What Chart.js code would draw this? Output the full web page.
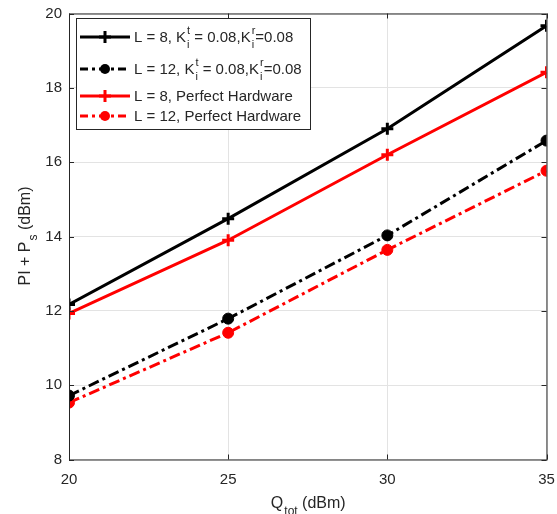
<!DOCTYPE html>
<html>
<head>
<meta charset="utf-8">
<script src="https://cdn.jsdelivr.net/npm/chart.js@4"></script>
<style>
  html, body { margin: 0; padding: 0; background: #fff; }
  #wrap { width: 557px; height: 514px; position: relative; }
</style>
</head>
<body>
<div id="wrap"><canvas id="chart" width="557" height="514"></canvas></div>
<script>
// data
const xValues = [20, 25, 30, 35];
const l8Impaired = [12.17, 14.48, 16.9, 19.67];
const l12Impaired = [9.72, 11.79, 14.03, 16.58];
const l8Perfect = [11.93, 13.9, 16.2, 18.42];
const l12Perfect = [9.53, 11.41, 13.64, 15.77];
const yTicks = [8, 10, 12, 14, 16, 18, 20];

const FONT = '"Liberation Sans", Arial, Helvetica, sans-serif';
const AXIS_COLOR = '#262626';
const DASH_DOT = [11, 4, 3, 4];

function pts(ys) {
    return xValues.map((x, i) => ({ x: x, y: ys[i] }));
}

// text with sub/superscripts: parts = [text, sup, sub]
function richWidth(ctx, parts, size) {
    let w = 0;
    parts.forEach(p => {
        ctx.font = size + 'px ' + FONT;
        w += ctx.measureText(p[0]).width;
        ctx.font = Math.round(size * 0.75) + 'px ' + FONT;
        w += Math.max(p[1] ? ctx.measureText(p[1]).width : 0, p[2] ? ctx.measureText(p[2]).width : 0);
    });
    return w;
}

function drawRich(ctx, x, y, parts, size) {
    ctx.textBaseline = 'middle';
    ctx.textAlign = 'left';
    parts.forEach(p => {
        ctx.font = size + 'px ' + FONT;
        ctx.fillText(p[0], x, y);
        x += ctx.measureText(p[0]).width;
        const small = Math.round(size * 0.75);
        ctx.font = small + 'px ' + FONT;
        let adv = 0;
        if (p[1]) {
            ctx.fillText(p[1], x + 1, y - size * 0.45);
            adv = Math.max(adv, ctx.measureText(p[1]).width + 1);
        }
        if (p[2]) {
            ctx.fillText(p[2], x + 1, y + size * 0.48);
            adv = Math.max(adv, ctx.measureText(p[2]).width + 1);
        }
        x += adv;
    });
}

const legendItems = [
    { color: '#000', dash: [], marker: 'plus', y: 37,
      parts: [['L = 8, K', 't', 'i'], [' = 0.08,K', 'r', 'i'], ['=0.08', '', '']] },
    { color: '#000', dash: [8, 4, 3, 4], marker: 'circle', y: 69,
      parts: [['L = 12, K', 't', 'i'], [' = 0.08,K', 'r', 'i'], ['=0.08', '', '']] },
    { color: '#ff0000', dash: [], marker: 'plus', y: 96,
      parts: [['L = 8, Perfect Hardware', '', '']] },
    { color: '#ff0000', dash: [8, 4, 3, 4], marker: 'circle', y: 116,
      parts: [['L = 12, Perfect Hardware', '', '']] }
];

const framePlugin = {
    id: 'frame',
    afterDraw(chart) {
        const ctx = chart.ctx;
        const a = chart.chartArea;
        const xs = chart.scales.x, ys = chart.scales.y;
        ctx.save();
        // box
        ctx.strokeStyle = AXIS_COLOR;
        ctx.lineWidth = 1;
        ctx.strokeRect(a.left + 0.5, a.top + 0.5, a.right - a.left, a.bottom - a.top);
        // inward ticks
        ctx.beginPath();
        xValues.forEach(v => {
            const px = Math.round(xs.getPixelForValue(v)) + 0.5;
            ctx.moveTo(px, a.bottom); ctx.lineTo(px, a.bottom - 5);
            ctx.moveTo(px, a.top); ctx.lineTo(px, a.top + 5);
        });
        yTicks.forEach(v => {
            const py = Math.round(ys.getPixelForValue(v)) + 0.5;
            ctx.moveTo(a.left, py); ctx.lineTo(a.left + 5, py);
            ctx.moveTo(a.right, py); ctx.lineTo(a.right - 5, py);
        });
        ctx.stroke();

        // axis titles
        ctx.fillStyle = AXIS_COLOR;
        const xt = [['Q', '', 'tot'], [' (dBm)', '', '']];
        const xw = richWidth(ctx, xt, 16);
        drawRich(ctx, (a.left + a.right) / 2 - xw / 2, 504, xt, 16);

        const yt = [['PI + P', '', 's'], [' (dBm)', '', '']];
        const yw = richWidth(ctx, yt, 16);
        ctx.save();
        ctx.translate(26, (a.top + a.bottom) / 2);
        ctx.rotate(-Math.PI / 2);
        drawRich(ctx, -yw / 2, 0, yt, 16);
        ctx.restore();

        // legend
        ctx.fillStyle = '#fff';
        ctx.fillRect(76, 18, 235, 111);
        ctx.strokeStyle = AXIS_COLOR;
        ctx.strokeRect(76.5, 18.5, 234, 111);
        legendItems.forEach(it => {
            ctx.strokeStyle = it.color;
            ctx.fillStyle = it.color;
            ctx.lineWidth = 3;
            ctx.setLineDash(it.dash);
            ctx.beginPath();
            ctx.moveTo(80, it.y); ctx.lineTo(130, it.y);
            ctx.stroke();
            ctx.setLineDash([]);
            if (it.marker === 'plus') {
                ctx.beginPath();
                ctx.moveTo(99, it.y); ctx.lineTo(111, it.y);
                ctx.moveTo(105, it.y - 6); ctx.lineTo(105, it.y + 6);
                ctx.stroke();
            } else {
                ctx.beginPath();
                ctx.arc(105, it.y, 5, 0, Math.PI * 2);
                ctx.fill();
            }
            ctx.fillStyle = AXIS_COLOR;
            drawRich(ctx, 134, it.y + 1, it.parts, 15);
        });
        ctx.restore();
    }
};

function series(label, ys, color, dashed, marker) {
    return {
        label: label,
        data: pts(ys),
        borderColor: color,
        backgroundColor: color,
        borderWidth: 3,
        borderDash: dashed ? DASH_DOT : [],
        pointStyle: marker,
        pointRadius: marker === 'cross' ? 6 : 5.5,
        pointBorderWidth: marker === 'cross' ? 3 : 1,
        pointBackgroundColor: color,
        pointBorderColor: color,
        tension: 0
    };
}

new Chart(document.getElementById('chart'), {
    type: 'line',
    data: {
        datasets: [
            series('L = 8, Kt = 0.08,Kr=0.08', l8Impaired, '#000', false, 'cross'),
            series('L = 12, Kt = 0.08,Kr=0.08', l12Impaired, '#000', true, 'circle'),
            series('L = 8, Perfect Hardware', l8Perfect, '#ff0000', false, 'cross'),
            series('L = 12, Perfect Hardware', l12Perfect, '#ff0000', true, 'circle')
        ]
    },
    plugins: [framePlugin],
    options: {
        responsive: false,
        animation: false,
        events: [],
        layout: { padding: { left: 0, right: 10.5, top: 13.5, bottom: 0 } },
        plugins: { legend: { display: false }, tooltip: { enabled: false } },
        scales: {
            x: {
                type: 'linear',
                min: 20, max: 35,
                afterBuildTicks: s => { s.ticks = xValues.map(v => ({ value: v })); },
                afterFit: s => { s.height = 54.5; s.paddingLeft = 0; s.paddingRight = 0; },
                grid: { color: '#e3e3e3', drawTicks: false },
                border: { display: false },
                ticks: { color: AXIS_COLOR, font: { family: FONT, size: 15 }, padding: 11, maxRotation: 0 }
            },
            y: {
                min: 8, max: 20,
                afterBuildTicks: s => { s.ticks = yTicks.map(v => ({ value: v })); },
                afterFit: s => { s.width = 69; s.paddingTop = 0; s.paddingBottom = 0; },
                grid: { color: '#e3e3e3', drawTicks: false },
                border: { display: false },
                ticks: { color: AXIS_COLOR, font: { family: FONT, size: 15 }, padding: 7 }
            }
        }
    }
});
</script>
</body>
</html>
